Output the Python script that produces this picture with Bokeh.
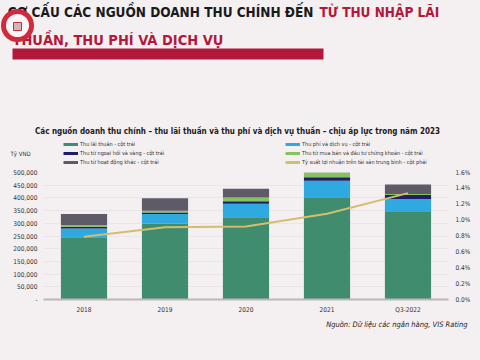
from bokeh.plotting import figure
from bokeh.layouts import column
from bokeh.models import (Range1d, LinearAxis, SingleIntervalTicker, CustomJSTickFormatter,
                          PrintfTickFormatter, Label, Legend, LegendItem, ColumnDataSource, Title)
from bokeh.embed import file_html
from bokeh.resources import INLINE

categories = ["2018", "2019", "2020", "2021", "Q3-2022"]
thu_lai_thuan = [245000, 298000, 324000, 403000, 344000]
thu_phi_dich_vu = [35000, 39000, 53000, 65000, 52000]
thu_ngoai_hoi = [6000, 6000, 10000, 13000, 15000]
thu_chung_khoan = [6000, 6000, 15000, 20000, 4000]
thu_khac = [45000, 50000, 34000, 40000, 38000]
roa = [0.79, 0.91, 0.92, 1.08, 1.34]

series_keys = ["lai", "phi", "nh", "ck", "khac"]
series_names = ["Thu lãi thuần - cột trái", "Thu phí và dịch vụ - cột trái",
                "Thu từ ngoại hối và vàng - cột trái",
                "Thu từ mua bán và đầu tư chứng khoán - cột trái",
                "Thu từ hoạt động khác - cột trái"]
line_name = "Tỷ suất lợi nhuận trên tài sản trung bình - cột phải"
header_black = "CƠ CẤU CÁC NGUỒN DOANH THU CHÍNH ĐẾN"
header_red_1 = "TỪ THU NHẬP LÃI"
header_red_2 = "THUẦN, THU PHÍ VÀ DỊCH VỤ"
chart_title = "Các nguồn doanh thu chính – thu lãi thuần và thu phí và dịch vụ thuần – chịu áp lực trong năm 2023"
source_text = "Nguồn: Dữ liệu các ngân hàng, VIS Rating"

colors = ["#3f8c6e", "#2fa9e0", "#1b1f6e", "#86c35a", "#5e5a68"]
line_color = "#d6bd6e"
red = "#b3183c"
bg = "#f4eff1"
NARROW = "DejaVu Sans Condensed"

W = 480
TOP_H = 168
BOT_H = 192

# ---------- top figure: header, title, legend ----------
top = figure(width=W, height=TOP_H, x_range=Range1d(0, W), y_range=Range1d(TOP_H, 0),
             output_backend="svg", toolbar_location=None, min_border=0,
             x_axis_location=None, y_axis_location=None)
top.frame_align = False
top.grid.visible = False
top.outline_line_color = None
top.background_fill_color = bg
top.border_fill_color = bg

def lab(fig, x, y, text, size, color="#222222", style="normal", align="left", font=NARROW):
    fig.add_layout(Label(x=x, y=y, text=text, text_font_size=size, text_color=color,
                         text_font_style=style, text_align=align, text_font=font,
                         text_baseline="middle"))

lab(top, 313, 11, header_black, "13.5px", "#1a1a1a", "bold", "right")
lab(top, 319, 11, header_red_1, "13.5px", red, "bold", "left")
lab(top, 12, 39, header_red_2, "14.5px", red, "bold", "left")
top.quad(left=[12], right=[323], top=[48], bottom=[59], color=red, line_color=None)
# logo badge (overlay, as in the reference)
b1 = top.scatter(x=[17], y=[25], size=28, marker="circle", fill_color="#fbf7f8",
                 line_color="#d02a3c", line_width=5)
b2 = top.scatter(x=[17], y=[26], size=8, marker="square", fill_color="#c9b9bd",
                 line_color="#d02a3c", line_width=1)
b1.level = "overlay"
b2.level = "overlay"

lab(top, 237, 131, chart_title, "8px", "#1a1a1a", "bold", "center")
lab(top, 10, 153, "Tỷ VND", "6px", "#333333", "normal", "left")

dummy = ColumnDataSource(dict(x=[-50, -40], y=[-50, -50]))
leg_r = [top.line("x", "y", source=dummy, line_color=c, line_width=3) for c in colors + [line_color]]

leg1 = Legend(items=[LegendItem(label=series_names[0], renderers=[leg_r[0]]),
                     LegendItem(label=series_names[2], renderers=[leg_r[2]]),
                     LegendItem(label=series_names[4], renderers=[leg_r[4]])],
              location=(63, 2))
leg2 = Legend(items=[LegendItem(label=series_names[1], renderers=[leg_r[1]]),
                     LegendItem(label=series_names[3], renderers=[leg_r[3]]),
                     LegendItem(label=line_name, renderers=[leg_r[5]])],
              location=(285, 2))
for lg in (leg1, leg2):
    lg.background_fill_alpha = 0
    lg.border_line_color = None
    lg.label_text_font_size = "5.5px"
    lg.label_text_color = "#333333"
    lg.glyph_width = 15
    lg.glyph_height = 8
    lg.label_height = 8
    lg.spacing = 1
    lg.padding = 0
    lg.margin = 0
    lg.label_standoff = 2
    lg.label_text_font = NARROW
    top.add_layout(lg, "center")

# ---------- main chart ----------
src = ColumnDataSource(dict(x=categories, lai=thu_lai_thuan, phi=thu_phi_dich_vu,
                            nh=thu_ngoai_hoi, ck=thu_chung_khoan, khac=thu_khac, roa=roa))

p = figure(x_range=categories, y_range=Range1d(0, 500000), width=W, height=BOT_H,
           output_backend="svg", toolbar_location=None,
           min_border_left=43, min_border_right=32, min_border_top=4, min_border_bottom=61)
p.frame_align = False
p.background_fill_color = bg
p.border_fill_color = bg
p.outline_line_color = None

p.vbar_stack(series_keys, x="x", width=0.57, color=colors, source=src, line_color=None)
p.extra_y_ranges = {"roa": Range1d(0, 1.6)}
p.line(x="x", y="roa", source=src, y_range_name="roa", line_color=line_color, line_width=2)

p.yaxis.ticker = SingleIntervalTicker(interval=50000)
p.yaxis.formatter = CustomJSTickFormatter(code="return tick == 0 ? '-' : tick.toLocaleString('en-US');")

ra = LinearAxis(y_range_name="roa", ticker=SingleIntervalTicker(interval=0.2),
                formatter=PrintfTickFormatter(format="%.1f%%"))
p.add_layout(ra, "right")

for ax in (p.yaxis[0], ra):
    ax.axis_line_color = None
    ax.major_tick_line_color = None
    ax.minor_tick_line_color = None
    ax.major_tick_out = 0
    ax.minor_tick_out = 0
    ax.major_label_standoff = 6
    ax.major_label_text_font_size = "6.5px"
    ax.major_label_text_color = "#333333"
    ax.major_label_text_font = NARROW
ra.major_label_standoff = 7

p.xaxis.axis_line_color = "#bdb6ba"
p.xaxis.axis_line_width = 2
p.xaxis.major_tick_line_color = None
p.xaxis.minor_tick_line_color = None
p.xaxis.major_tick_out = 0
p.xaxis.major_label_standoff = 6
p.xaxis.major_label_text_font_size = "6.5px"
p.xaxis.major_label_text_color = "#333333"
p.xaxis.major_label_text_font = NARROW

p.xgrid.grid_line_color = None
p.ygrid.grid_line_color = "#e4dde1"
p.ygrid.grid_line_width = 0.6

p.add_layout(Title(text=source_text, align="right", text_font_style="italic",
                   text_font_size="7.5px", text_color="#222222", text_font=NARROW,
                   offset=-19, standoff=2), "below")

layout = column(top, p, spacing=0)
layout.styles = {"background-color": bg}

out = open("out.html", "w")
out.write(file_html(layout, INLINE))
out.close()
